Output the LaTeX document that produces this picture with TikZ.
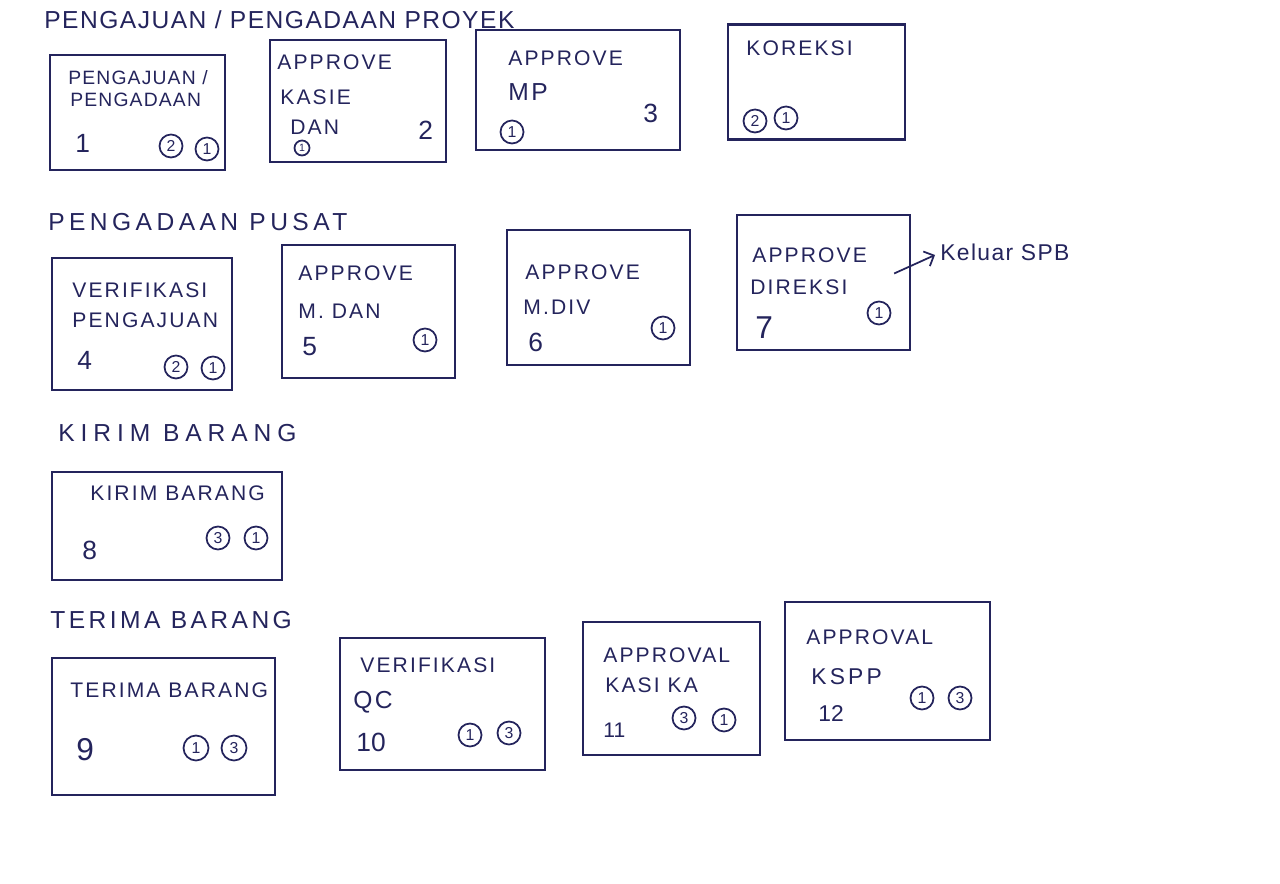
\documentclass[tikz,border=0pt]{standalone}
\usepackage{fontspec}
\setmainfont{Liberation Sans}
\usepackage{xcolor}
\usetikzlibrary{arrows.meta,positioning}
\definecolor{ink}{HTML}{24245C}

\begin{document}
\begin{tikzpicture}[
  x=0.02cm,y=-0.02cm,
  card/.style 2 args={draw=ink,line width=1.3pt,minimum width=#1,minimum height=#2,inner sep=0pt},
  title/.style={text=ink,anchor=west,inner sep=0pt,font=\fontsize{14}{16}\selectfont\addfontfeatures{LetterSpace=#1}},
  title/.default=6,
  lbl/.style={text=ink,anchor=west,inner sep=0pt,font=\fontsize{12}{14}\selectfont\addfontfeatures{LetterSpace=10}},
  idx/.style={text=ink,anchor=west,inner sep=0pt,font=\fontsize{15}{17}\selectfont},
  badge/.style={draw=ink,line width=1pt,circle,minimum size=0.46cm,inner sep=0pt,text=ink,font=\fontsize{9}{10}\selectfont},
  arrow/.style={-{Straight Barb[length=1.6mm]},line width=1pt,draw=ink}
]
\useasboundingbox (0,0) rectangle (1280,884);
% pengajuan / pengadaan proyek
\node[title] (titleproyek) at (44,20) {PENGAJUAN / PENGADAAN PROYEK};
\node[card={3.5cm}{2.3cm}] (pengajuan) at (137.5,112.5) {};
\node[lbl,font=\fontsize{11}{13}\selectfont\addfontfeatures{LetterSpace=6}] (pengajuant) at (68,78) {PENGAJUAN /};
\node[lbl,font=\fontsize{11}{13}\selectfont\addfontfeatures{LetterSpace=6}] (pengajuanb) at (70,100) {PENGADAAN};
\node[idx] (pengajuann) at (75,143) {1};
\node[badge] (pengajuanc) at (171,146) {2};
\node[badge] (pengajuand) at (207,149) {1};

\node[card={3.52cm}{2.44cm}] (kasie) at (358,101) {};
\node[lbl] (kasiet) at (277,62) {APPROVE};
\node[lbl] (kasieb) at (280,97) {KASIE};
\node[lbl] (kasiec) at (290,127) {DAN};
\node[idx] (kasien) at (418,130) {2};
\node[badge,minimum size=0.3cm,font=\fontsize{6}{7}\selectfont] (kasied) at (302,148) {1};

\node[card={4.08cm}{2.4cm}] (mp) at (578,90) {};
\node[lbl] (mpt) at (508,58) {APPROVE};
\node[lbl,font=\fontsize{14}{16}\selectfont\addfontfeatures{LetterSpace=10}] (mpb) at (508,92) {MP};
\node[idx] (mpn) at (643,113) {3};
\node[badge] (mpd) at (512,132) {1};

\node[card={3.54cm}{2.3cm}] (koreksi) at (816.5,82) {};
\node[lbl] (koreksit) at (746,48) {KOREKSI};
\node[badge] (koreksic) at (755,121) {2};
\node[badge] (koreksid) at (786,118) {1};

% pengadaan pusat
\node[title=18] (titlepusat) at (48,222) {PENGADAAN PUSAT};
\node[card={3.6cm}{2.64cm}] (verif) at (142,324) {};
\node[lbl] (verift) at (72,290) {VERIFIKASI};
\node[lbl] (verifb) at (72,320) {PENGAJUAN};
\node[idx] (verifn) at (77,360) {4};
\node[badge] (verifc) at (176,367) {2};
\node[badge] (verifd) at (213,368) {1};

\node[card={3.46cm}{2.66cm}] (mdan) at (368.5,311.5) {};
\node[lbl] (mdant) at (298,273) {APPROVE};
\node[lbl] (mdanb) at (298,311) {M. DAN};
\node[idx] (mdann) at (302,347) {5};
\node[badge] (mdand) at (425,340) {1};

\node[card={3.66cm}{2.7cm}] (mdiv) at (598.5,297.5) {};
\node[lbl] (mdivt) at (525,272) {APPROVE};
\node[lbl] (mdivb) at (523,307) {M.DIV};
\node[idx] (mdivn) at (528,342) {6};
\node[badge] (mdivd) at (663,328) {1};

\node[card={3.46cm}{2.7cm}] (direksi) at (823.5,282.5) {};
\node[lbl] (direksit) at (752,255) {APPROVE};
\node[lbl] (direksib) at (750,287) {DIREKSI};
\node[idx,font=\fontsize{18}{20}\selectfont] (direksin) at (755,328) {7};
\node[badge] (direksid) at (879,313) {1};
\node[text=ink,anchor=west,inner sep=0pt,font=\fontsize{13}{15}\selectfont\addfontfeatures{LetterSpace=6}] (spb) at (940,252) {Keluar SPB};
\draw[arrow] ([xshift=-0.34cm,yshift=0.18cm]direksi.east) -- ([xshift=-0.1cm,yshift=-0.06cm]spb.west);

% kirim barang
\node[title=24] (titlekirim) at (58,433) {KIRIM BARANG};
\node[card={4.6cm}{2.16cm}] (kirim) at (167,526) {};
\node[lbl] (kirimt) at (90,493) {KIRIM BARANG};
\node[idx] (kirimn) at (82,550) {8};
\node[badge] (kirimc) at (218,538) {3};
\node[badge] (kirimd) at (256,538) {1};

% terima barang
\node[title=14] (titleterima) at (50,620) {TERIMA BARANG};
\node[card={4.46cm}{2.74cm}] (terima) at (163.5,726.5) {};
\node[lbl] (terimat) at (70,690) {TERIMA BARANG};
\node[idx,font=\fontsize{18}{20}\selectfont] (teriman) at (76,750) {9};
\node[badge,minimum size=0.5cm] (terimac) at (196,748) {1};
\node[badge,minimum size=0.5cm] (terimad) at (234,748) {3};

\node[card={4.1cm}{2.64cm}] (qc) at (442.5,704) {};
\node[lbl] (qct) at (360,665) {VERIFIKASI};
\node[lbl,font=\fontsize{14}{16}\selectfont\addfontfeatures{LetterSpace=10}] (qcb) at (353,702) {QC};
\node[idx] (qcn) at (356,742) {10};
\node[badge] (qcc) at (470,735) {1};
\node[badge] (qcd) at (509,733) {3};

\node[card={3.54cm}{2.66cm}] (kasika) at (671.5,688.5) {};
\node[lbl] (kasikat) at (603,655) {APPROVAL};
\node[lbl] (kasikab) at (605,685) {KASI KA};
\node[idx,font=\fontsize{12}{14}\selectfont] (kasikan) at (603,730) {11};
\node[badge] (kasikac) at (684,718) {3};
\node[badge] (kasikad) at (724,720) {1};

\node[card={4.1cm}{2.76cm}] (kspp) at (887.5,671) {};
\node[lbl] (kspptt) at (806,637) {APPROVAL};
\node[lbl,font=\fontsize{13}{15}\selectfont\addfontfeatures{LetterSpace=14}] (ksppb) at (811,677) {KSPP};
\node[idx,font=\fontsize{13}{15}\selectfont] (ksppn) at (818,714) {12};
\node[badge] (ksppc) at (922,698) {1};
\node[badge] (ksppd) at (960,698) {3};
\end{tikzpicture}
\end{document}
